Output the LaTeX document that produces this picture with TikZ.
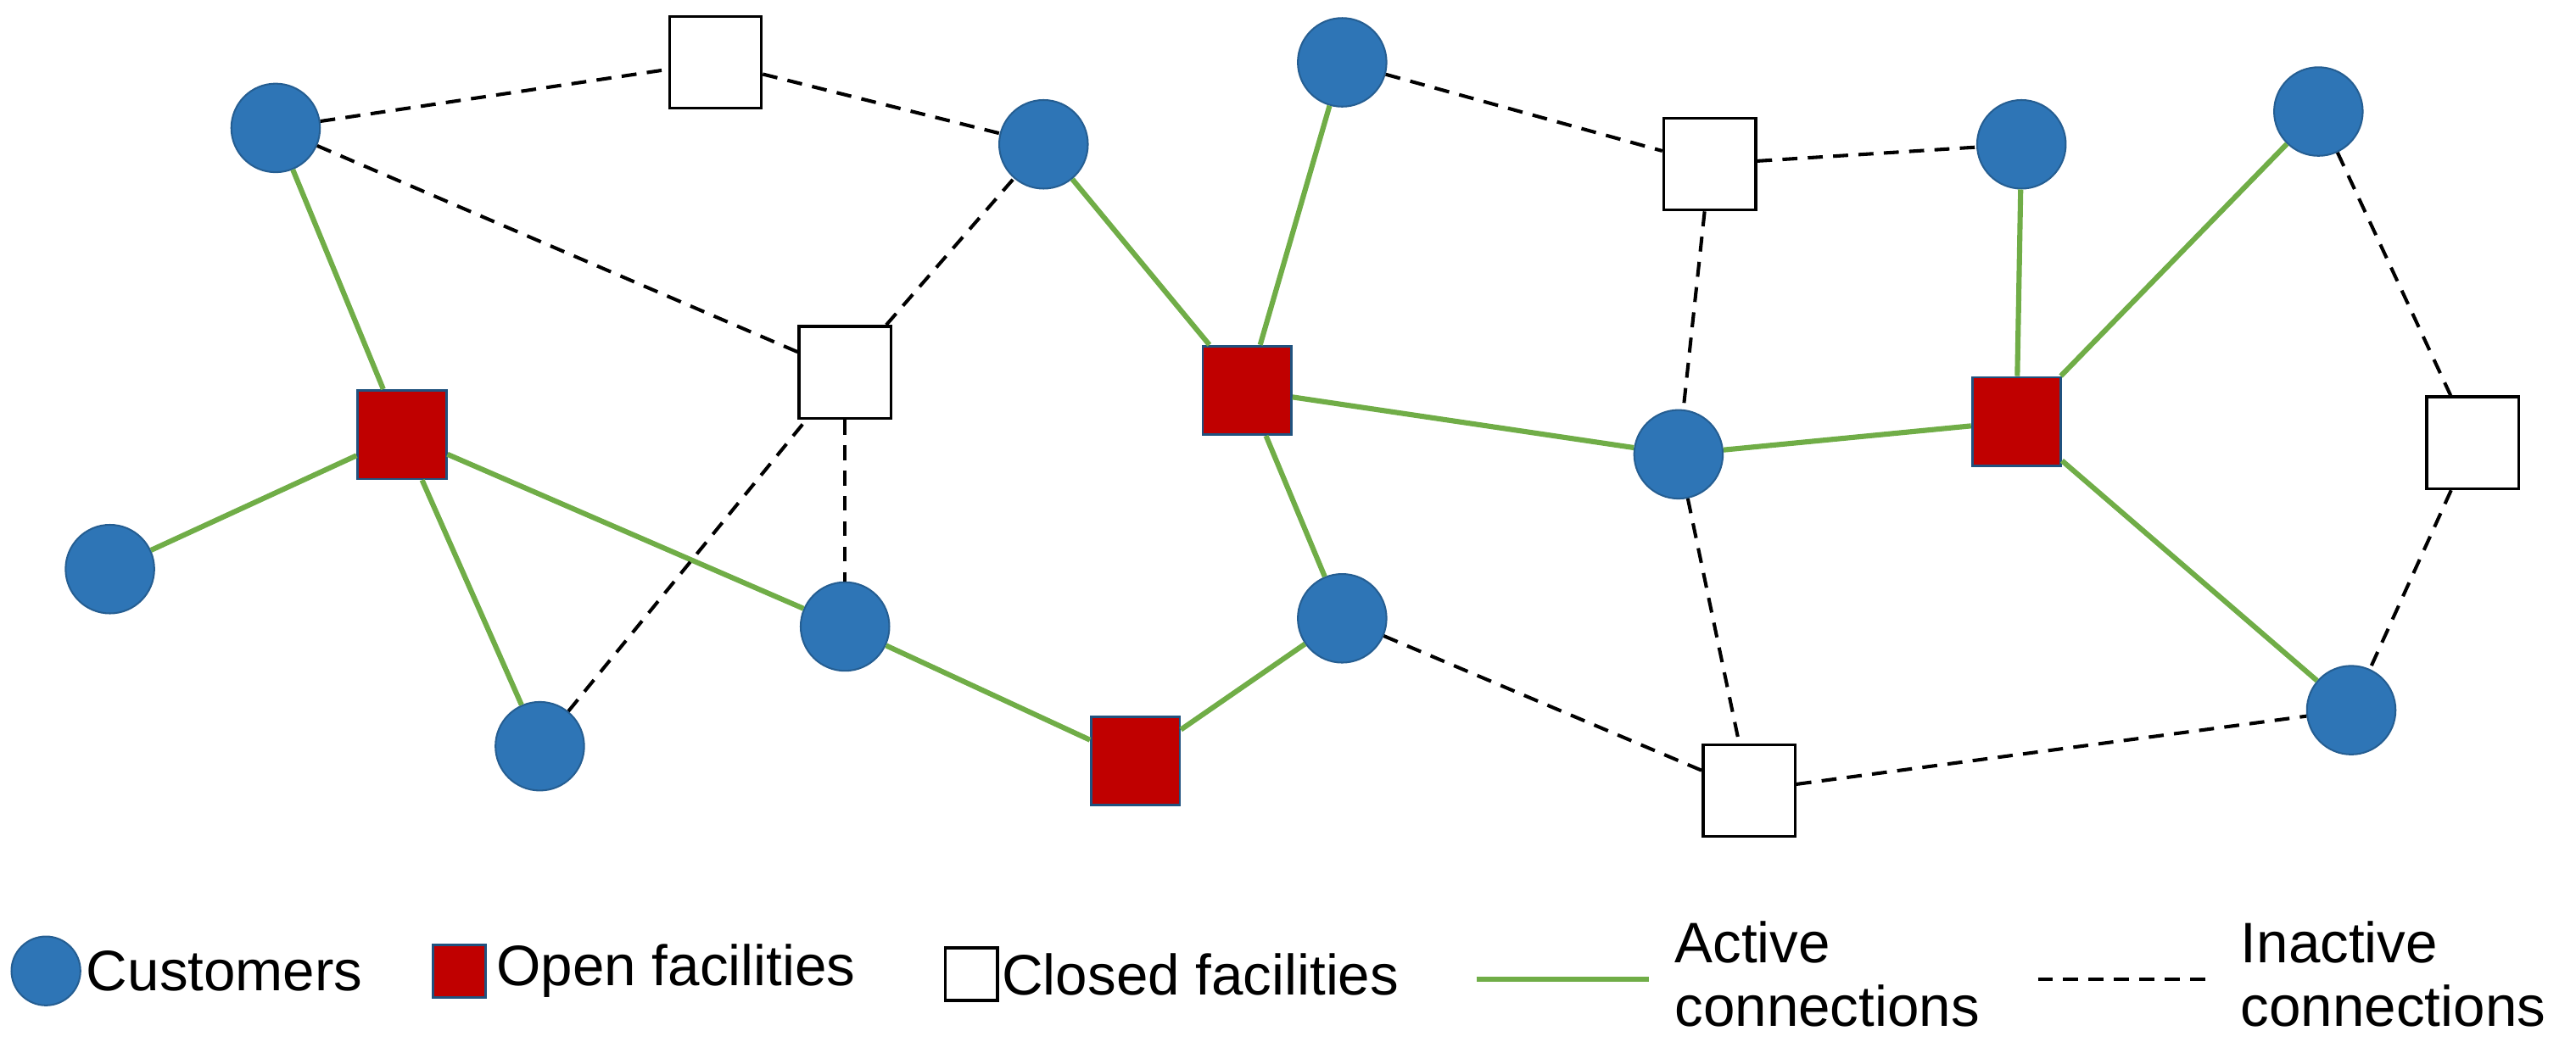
\documentclass[tikz,border=0pt]{standalone}
\usepackage{fontspec}
\setmainfont{Liberation Sans}
\definecolor{cblue}{HTML}{2E75B6}
\definecolor{cred}{HTML}{C00000}
\definecolor{cgreen}{HTML}{70AD47}
\begin{document}
\begin{tikzpicture}[x=0.01cm,y=-0.01cm,
 cust/.style={circle,fill=cblue,draw=cblue!80!black,line width=0.3pt,minimum size=0.54cm,inner sep=0pt},
 open/.style={rectangle,fill=cred,draw=cblue!70!black,line width=0.4pt,minimum size=0.54cm,inner sep=0pt},
 closed/.style={rectangle,fill=white,draw=black,line width=0.5pt,minimum size=0.56cm,inner sep=0pt},
 act/.style={cgreen,line width=0.9pt},
 ina/.style={black,line width=0.6pt,dash pattern=on 2.6pt off 1.8pt},
 lbl/.style={font=\fontsize{9.9}{11}\selectfont,inner sep=0pt,anchor=west,align=left}]
\useasboundingbox (0,0) rectangle (1570,642);
\node[cust] (c1) at (168,78) {};
\node[cust] (c2) at (636,88) {};
\node[cust] (c3) at (818,38) {};
\node[cust] (c4) at (1232,88) {};
\node[cust] (c5) at (1413,68) {};
\node[cust] (c6) at (67,347) {};
\node[cust] (c7) at (515,382) {};
\node[cust] (c8) at (818,377) {};
\node[cust] (c9) at (1023,277) {};
\node[cust] (c10) at (329,455) {};
\node[cust] (c11) at (1433,433) {};
\node[open] (o1) at (245,265) {};
\node[open] (o2) at (760,238) {};
\node[open] (o3) at (692,464) {};
\node[open] (o4) at (1229,257) {};
\node[closed] (k1) at (436,38) {};
\node[closed] (k2) at (515,227) {};
\node[closed] (k3) at (1042,100) {};
\node[closed] (k4) at (1507,270) {};
\node[closed] (k5) at (1066,482) {};
\foreach \a/\b in {c1/o1,o1/c6,o1/c10,o1/c7,c7/o3,o3/c8,c8/o2,o2/c3,o2/c2,o2/c9,c9/o4,o4/c4,o4/c5,o4/c11}
 \draw[act] (\a) -- (\b);
\foreach \a/\b in {c1/k1,k1/c2,c1/k2,k2/c2,c10/k2,k2/c7,c3/k3,k3/c4,k3/c9,c9/k5,c8/k5,k5/c11,c5/k4,k4/c11}
 \draw[ina] (\a) -- (\b);
% legend
\node[cust,minimum size=0.42cm] (l1) at (28,592) {};
\node[lbl] (t1) at (52,592) {Customers};
\node[open,minimum size=0.32cm] (l2) at (280,592) {};
\node[lbl] (t2) at (302,592) {Open facilities};
\node[closed,minimum size=0.32cm] (l3) at (592,594) {};
\node[lbl] (t3) at (610,594) {Closed facilities};
\coordinate (g1) at (900,597); \coordinate (g2) at (1005,597);
\draw[act] (g1) -- (g2);
\node[lbl] (t4) at (1020,594) {Active\\connections};
\coordinate (d1) at (1242,597); \coordinate (d2) at (1345,597);
\draw[ina] (d1) -- (d2);
\node[lbl] (t5) at (1365,594) {Inactive\\connections};
\end{tikzpicture}
\end{document}
